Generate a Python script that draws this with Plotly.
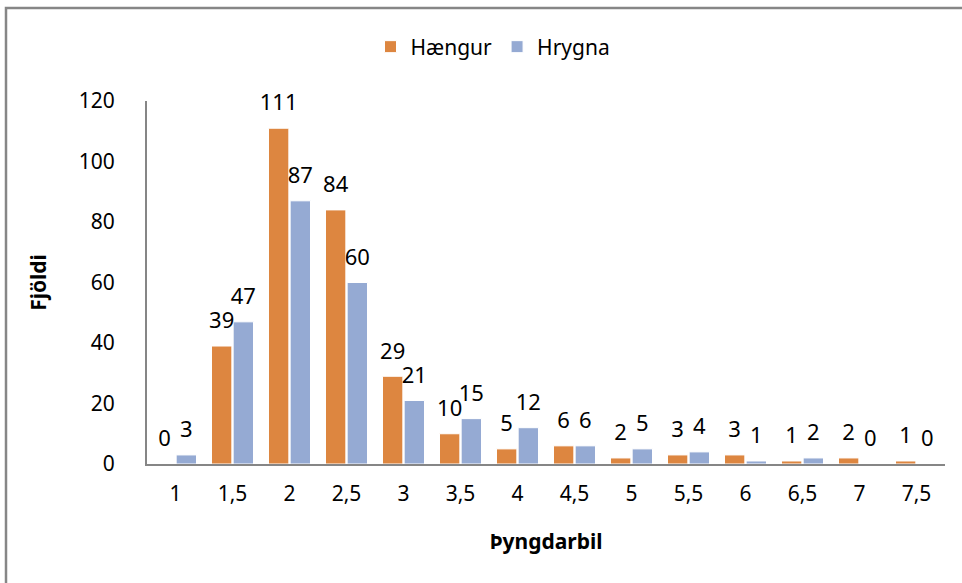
import plotly.graph_objects as go

# Þyngdarbil (weight class) categories
categories = ["1", "1,5", "2", "2,5", "3", "3,5", "4", "4,5", "5", "5,5", "6", "6,5", "7", "7,5"]
haengur = [0, 39, 111, 84, 29, 10, 5, 6, 2, 3, 3, 1, 2, 1]
hrygna = [3, 47, 87, 60, 21, 15, 12, 6, 5, 4, 1, 2, 0, 0]

W, H = 962, 583
L, R, T, B = 147, 17, 101, 119
FONT = "Noto Sans"

fig = go.Figure()
for name, vals, color in [("Hængur", haengur, "#DD8640"), ("Hrygna", hrygna, "#95AAD3")]:
    fig.add_trace(go.Bar(
        x=categories, y=vals, name=name, offsetgroup=name,
        marker=dict(color=color, line=dict(color="white", width=1)),
    ))
    # data labels, lifted a little above the bar top like Excel does
    fig.add_trace(go.Scatter(
        x=categories, y=vals, offsetgroup=name, mode="markers+text",
        text=[str(v) for v in vals], textposition="top center",
        marker=dict(size=18, opacity=0), cliponaxis=False,
        textfont=dict(size=22, color="black", family=FONT),
        showlegend=False, hoverinfo="skip",
    ))

pw, ph = W - L - R, H - T - B
# outer chart border (runs past right/bottom edges like the reference crop)
fig.add_shape(
    type="rect", xref="paper", yref="paper",
    x0=(6 - L) / pw, x1=(W + 5 - L) / pw,
    y0=(H - B - (H + 5)) / ph, y1=(H - B - 8) / ph,
    line=dict(color="#868686", width=2.5), layer="below",
)

fig.update_layout(
    width=W, height=H,
    margin=dict(l=L, r=R, t=T, b=B),
    paper_bgcolor="white", plot_bgcolor="white",
    font=dict(family=FONT, size=21, color="black"),
    barmode="group", bargap=0.24, bargroupgap=0.06,
    scattermode="group", scattergap=0.24,
    showlegend=True,
    legend=dict(
        orientation="h", x=(493 - L) / pw, xanchor="center", y=(H - B - 47) / ph, yanchor="middle",
        font=dict(size=21, family=FONT), itemwidth=30, traceorder="normal",
    ),
    xaxis=dict(
        showline=True, linecolor="#868686", linewidth=2, ticks="",
        showgrid=False, tickfont=dict(size=21), ticklabelstandoff=10,
        title=dict(text="<b>Þyngdarbil</b>", font=dict(size=21), standoff=28),
    ),
    yaxis=dict(
        range=[0, 120], dtick=20, showline=True, linecolor="#868686", linewidth=2,
        ticks="", showgrid=False, zeroline=False, tickfont=dict(size=21),
        ticklabelstandoff=26,
        title=dict(text="<b>Fjöldi</b>", font=dict(size=21), standoff=26),
    ),
)

fig.write_html("out.html", config={"displayModeBar": False},
               post_script="document.body.style.margin='0';")
